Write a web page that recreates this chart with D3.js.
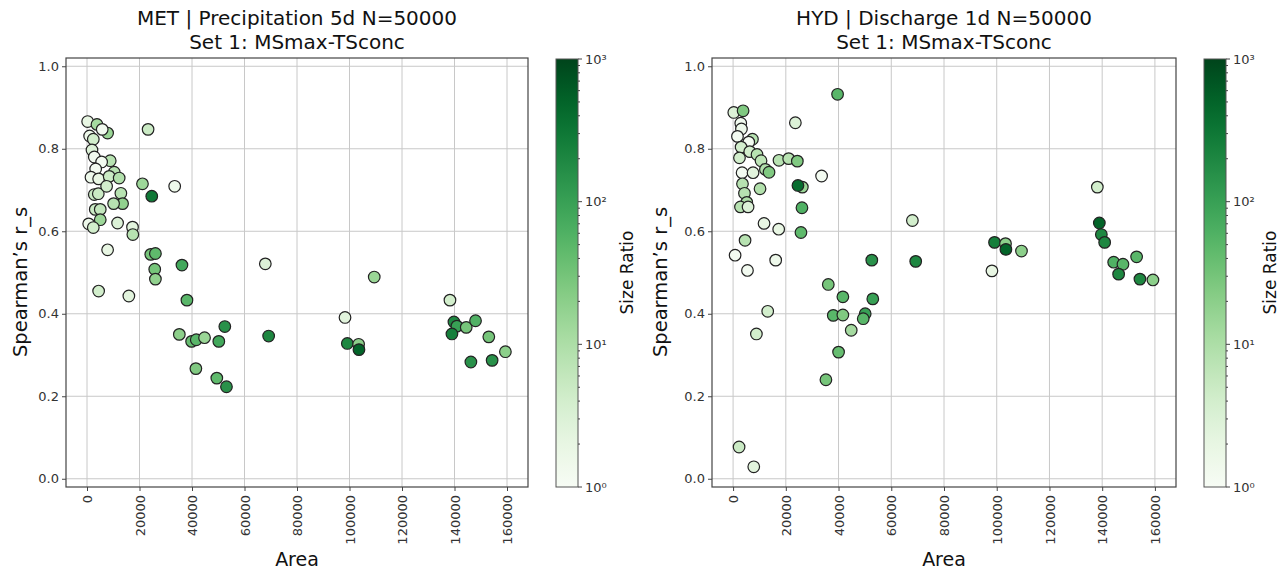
<!DOCTYPE html>
<html>
<head>
<meta charset="utf-8">
<script src="https://cdn.jsdelivr.net/npm/d3@7"></script>
<style>
  body { margin: 0; background: #fff; }
  svg { display: block; font-family: "DejaVu Sans", sans-serif; }
</style>
</head>
<body>
<svg id="chart" width="1284" height="571"></svg>
<script>
// MET | Precipitation 5d
const areaMet = [250, 3800, 7850, 5800, 1000, 2400, 23270, 1900, 2780, 8850, 5570, 3300, 10370, 1520, 4430, 8460, 12260, 21130, 33400, 24670,
    12900, 13550, 10130, 2780, 4300, 7470, 3150, 5050, 5050, 640, 2400, 11650, 17340, 17460, 7850, 24290, 26060, 25800, 26060, 36170,
    67930, 109420, 4430, 15940, 38070, 138270, 98290, 52500, 139780, 140920, 144470, 148010, 139020, 153070, 159390, 146240, 154330, 35170, 39850, 41620,
    44780, 50210, 69200, 99170, 103470, 103600, 41480, 49450, 53130];
const rsMet = [0.866, 0.859, 0.838, 0.847, 0.831, 0.823, 0.847, 0.797, 0.780, 0.771, 0.768, 0.751, 0.743, 0.731, 0.727, 0.733, 0.729, 0.715, 0.709, 0.685,
    0.692, 0.667, 0.667, 0.689, 0.691, 0.709, 0.653, 0.653, 0.628, 0.618, 0.609, 0.620, 0.610, 0.592, 0.555, 0.544, 0.546, 0.508, 0.484, 0.518,
    0.521, 0.489, 0.455, 0.443, 0.433, 0.433, 0.391, 0.369, 0.380, 0.370, 0.367, 0.383, 0.351, 0.344, 0.308, 0.283, 0.287, 0.350, 0.333, 0.337,
    0.342, 0.333, 0.346, 0.328, 0.326, 0.313, 0.267, 0.244, 0.223];
const ratioMet = [2, 12, 15, 1.3, 1.5, 4, 5, 3, 1.3, 8, 1.2, 1.2, 8, 1.5, 2, 5, 9, 14, 1.5, 300,
    8, 18, 8, 5, 5, 4, 5, 6, 14, 1.5, 4, 3, 2.5, 8, 2, 30, 45, 30, 18, 80,
    3, 15, 4, 2.5, 50, 4, 2.5, 150, 200, 100, 30, 60, 250, 30, 20, 150, 150, 20, 40, 50,
    15, 80, 200, 200, 20, 500, 25, 45, 150];

// HYD | Discharge 1d
const areaHyd = [39630, 260, 3790, 2910, 23620, 3170, 1660, 7340, 5940, 3030, 6320, 9080, 2420, 10600, 17410, 21080, 24370, 12260, 13630, 3410,
    7570, 33570, 3560, 10220, 4310, 26270, 24600, 5190, 2800, 5680, 26120, 11740, 17300, 25740, 68010, 138160, 4540, 760, 16160, 5450,
    52610, 69270, 99170, 103330, 103480, 109390, 98180, 138920, 139680, 140940, 144360, 147880, 153060, 146240, 154320, 159250, 36110, 41640, 52990, 38000,
    41640, 50110, 49360, 44810, 40010, 35210, 13130, 8840, 2270, 7840];
const rsHyd = [0.932, 0.888, 0.892, 0.862, 0.863, 0.848, 0.830, 0.823, 0.816, 0.804, 0.793, 0.786, 0.778, 0.771, 0.772, 0.776, 0.770, 0.750, 0.743, 0.742,
    0.742, 0.734, 0.715, 0.703, 0.692, 0.707, 0.711, 0.670, 0.659, 0.659, 0.657, 0.619, 0.605, 0.597, 0.626, 0.707, 0.578, 0.542, 0.530, 0.505,
    0.530, 0.527, 0.573, 0.570, 0.556, 0.552, 0.504, 0.620, 0.592, 0.573, 0.525, 0.520, 0.538, 0.496, 0.484, 0.482, 0.471, 0.441, 0.436, 0.396,
    0.397, 0.400, 0.388, 0.360, 0.307, 0.240, 0.406, 0.351, 0.077, 0.029];
const ratioHyd = [50, 3, 25, 1.3, 3, 1.5, 1.2, 8, 1.2, 4, 4, 8, 4, 7, 8, 8, 25, 9, 25, 1.2,
    2.5, 1.2, 8, 9, 8, 15, 400, 10, 8, 3, 60, 2, 2, 45, 4, 4, 8, 1.2, 1.5, 1.2,
    150, 200, 250, 20, 500, 20, 2, 500, 200, 200, 60, 50, 50, 200, 200, 20, 30, 50, 100, 50,
    25, 100, 50, 12, 40, 30, 4, 4, 5, 2.5];

const xTicks = [0, 20000, 40000, 60000, 80000, 100000, 120000, 140000, 160000];
const yTicks = [0.0, 0.2, 0.4, 0.6, 0.8, 1.0];
const cbarTicks = [1, 10, 100, 1000];

const panels = [
    { title: "MET | Precipitation 5d N=50000", area: areaMet, rs: rsMet, ratio: ratioMet, left: 66, right: 528, cbarX: 556, labelX: 20, sizeX: 627 },
    { title: "HYD | Discharge 1d N=50000", area: areaHyd, rs: rsHyd, ratio: ratioHyd, left: 712, right: 1176, cbarX: 1204, labelX: 660, sizeX: 1270 }
];

const svg = d3.select("#chart");
const plotTop = 58, plotBottom = 487;
const cbarW = 22;
const colorNorm = d3.scaleLog().domain([1, 1000]).range([0, 1]).clamp(true);
const color = v => d3.interpolateGreens(colorNorm(v));
const supers = { 0: "\u2070", 1: "\u00b9", 2: "\u00b2", 3: "\u00b3" };

panels.forEach((p, pi) => {
    const x = d3.scaleLinear().domain([-8000, 168000]).range([p.left, p.right]);
    const y = d3.scaleLinear().domain([-0.02, 1.02]).range([plotBottom, plotTop]);
    const g = svg.append("g");

    // grid
    g.selectAll(".gx").data(xTicks).join("line")
        .attr("x1", d => x(d)).attr("x2", d => x(d))
        .attr("y1", plotTop).attr("y2", plotBottom)
        .attr("stroke", "#c8c8c8").attr("stroke-width", 1);
    g.selectAll(".gy").data(yTicks).join("line")
        .attr("y1", d => y(d)).attr("y2", d => y(d))
        .attr("x1", p.left).attr("x2", p.right)
        .attr("stroke", "#c8c8c8").attr("stroke-width", 1);

    // points
    const idx = d3.range(p.area.length);
    g.selectAll("circle").data(idx).join("circle")
        .attr("cx", i => x(p.area[i]))
        .attr("cy", i => y(p.rs[i]))
        .attr("r", 5.8)
        .attr("fill", i => color(p.ratio[i]))
        .attr("stroke", "#222")
        .attr("stroke-width", 1.2);

    // frame
    g.append("rect")
        .attr("x", p.left).attr("y", plotTop)
        .attr("width", p.right - p.left).attr("height", plotBottom - plotTop)
        .attr("fill", "none").attr("stroke", "#444").attr("stroke-width", 1.2);

    // axes
    const xAxis = g.append("g").attr("transform", `translate(0,${plotBottom})`)
        .call(d3.axisBottom(x).tickValues(xTicks).tickSize(4).tickPadding(4).tickFormat(d3.format("d")));
    xAxis.select(".domain").remove();
    xAxis.selectAll("line").attr("stroke", "#444");
    xAxis.selectAll("text")
        .attr("transform", "rotate(-90)")
        .attr("text-anchor", "end")
        .attr("x", -8).attr("y", 0).attr("dy", "0.35em")
        .attr("fill", "#333").style("font-size", "13px").style("font-family", "DejaVu Sans");

    const yAxis = g.append("g").attr("transform", `translate(${p.left},0)`)
        .call(d3.axisLeft(y).tickValues(yTicks).tickSize(4).tickPadding(3).tickFormat(d3.format(".1f")));
    yAxis.select(".domain").remove();
    yAxis.selectAll("line").attr("stroke", "#444");
    yAxis.selectAll("text").attr("fill", "#333").style("font-size", "13px").style("font-family", "DejaVu Sans");

    // labels
    const cx = (p.left + p.right) / 2;
    g.append("text").attr("x", cx).attr("y", 25).attr("text-anchor", "middle")
        .style("font-size", "20px").attr("fill", "#111").text(p.title);
    g.append("text").attr("x", cx).attr("y", 49).attr("text-anchor", "middle")
        .style("font-size", "20px").attr("fill", "#111").text("Set 1: MSmax-TSconc");
    g.append("text").attr("x", cx).attr("y", 566).attr("text-anchor", "middle")
        .style("font-size", "19px").attr("fill", "#111").text("Area");
    g.append("text").attr("transform", `translate(${p.labelX},282) rotate(-90)`)
        .attr("text-anchor", "middle").attr("dy", "0.35em")
        .style("font-size", "19.5px").attr("fill", "#111").text("Spearman\u2019s r_s");

    // colorbar
    const cy = d3.scaleLog().domain([1, 1000]).range([plotBottom, plotTop + 1]);
    const gradId = "grad" + pi;
    const grad = svg.append("defs").append("linearGradient").attr("id", gradId)
        .attr("x1", 0).attr("y1", 1).attr("x2", 0).attr("y2", 0);
    d3.range(0, 1.0001, 0.05).forEach(t => {
        grad.append("stop").attr("offset", t).attr("stop-color", d3.interpolateGreens(t));
    });
    g.append("rect").attr("x", p.cbarX).attr("y", plotTop + 1)
        .attr("width", cbarW).attr("height", plotBottom - plotTop - 1)
        .attr("fill", `url(#${gradId})`).attr("stroke", "#555").attr("stroke-width", 1);

    const minor = [];
    [1, 10, 100].forEach(b => d3.range(2, 10).forEach(m => minor.push(b * m)));
    g.selectAll(".cminor").data(minor).join("line")
        .attr("x1", p.cbarX + cbarW).attr("x2", p.cbarX + cbarW + 2)
        .attr("y1", d => cy(d)).attr("y2", d => cy(d))
        .attr("stroke", "#444");
    g.selectAll(".cmajor").data(cbarTicks).join("line")
        .attr("x1", p.cbarX + cbarW).attr("x2", p.cbarX + cbarW + 4)
        .attr("y1", d => cy(d)).attr("y2", d => cy(d))
        .attr("stroke", "#444");
    g.selectAll(".clab").data(cbarTicks).join("text")
        .attr("x", p.cbarX + cbarW + 7).attr("y", d => cy(d)).attr("dy", "0.35em")
        .style("font-size", "13px").attr("fill", "#333")
        .text(d => "10" + supers[Math.round(Math.log10(d))]);
    g.append("text").attr("transform", `translate(${p.sizeX},${(plotTop + plotBottom) / 2}) rotate(-90)`)
        .attr("text-anchor", "middle").attr("dy", "0.35em")
        .style("font-size", "17px").attr("fill", "#111").text("Size Ratio");
});
</script>
</body>
</html>
